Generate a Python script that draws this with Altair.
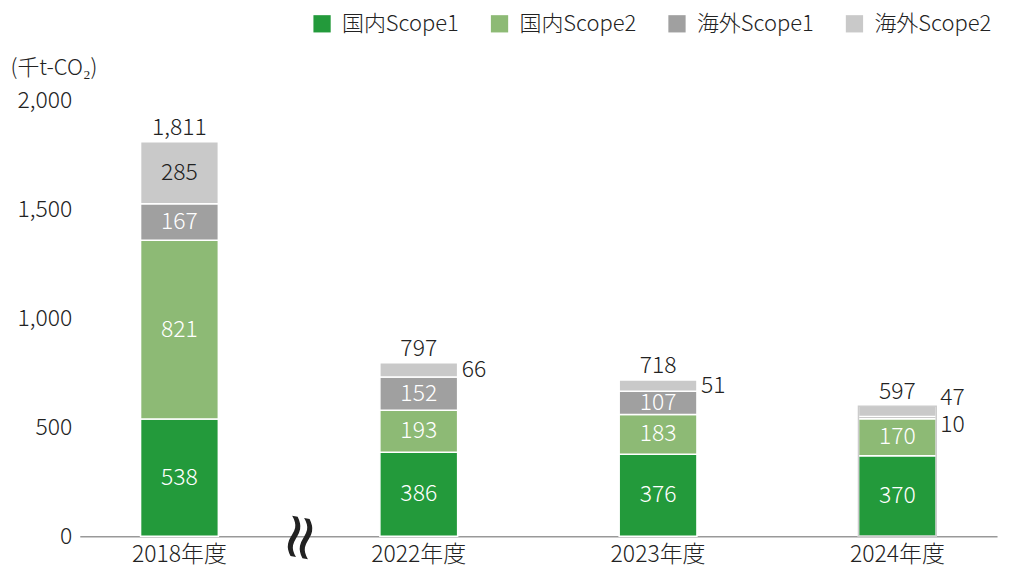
import altair as alt
import pandas as pd

years = ["2018年度", "2022年度", "2023年度", "2024年度"]
categories = ["国内Scope1", "国内Scope2", "海外Scope1", "海外Scope2"]
domestic_s1 = [538, 386, 376, 370]
domestic_s2 = [821, 193, 183, 170]
overseas_s1 = [167, 152, 107, 10]
overseas_s2 = [285, 66, 51, 47]
totals = [1811, 797, 718, 597]
colors = ["#239a3b", "#8dba75", "#a0a0a0", "#c9c9c9"]
y_ticks = [0, 500, 1000, 1500, 2000]

FONT = "Noto Sans CJK JP"
FS = 23
series = [domestic_s1, domestic_s2, overseas_s1, overseas_s2]
rows = []
for i, yr in enumerate(years):
    for j, cat in enumerate(categories):
        rows.append({"year": yr, "cat": cat, "order": j, "value": series[j][i]})
df = pd.DataFrame(rows)
tot = pd.DataFrame({"year": years, "total": totals})

xscale = alt.Scale(domain=years, paddingInner=0.675, paddingOuter=0.254)
yscale = alt.Scale(domain=[0, 2000], nice=False)

base = alt.Chart(df).transform_stack(
    stack="value", groupby=["year"], as_=["v0", "v1"], sort=[alt.SortField("order")]
).transform_calculate(mid="(datum.v0 + datum.v1) / 2")

bars = base.mark_bar(stroke="white", strokeWidth=1.5).encode(
    x=alt.X("year:N", scale=xscale, sort=years,
            axis=alt.Axis(title=None, labelAngle=0, ticks=False, domainColor="#999999",
                          domainWidth=1.5, labelFontSize=FS, labelFont=FONT, labelColor="#222222",
                          labelPadding=7, labelFontWeight=300)),
    y=alt.Y("v0:Q", scale=yscale,
            axis=alt.Axis(values=y_ticks, format=",d", grid=False, ticks=False, domain=False,
                          labelFontSize=FS, labelFont=FONT, labelColor="#222222", labelPadding=8,
                          labelFontWeight=300,
                          title="(千t-CO₂)", titleAngle=0, titleAlign="left", titleBaseline="middle",
                          titleX=-70, titleY=-33, titleFontSize=FS - 1, titleFont=FONT,
                          titleFontWeight=300, titleColor="#222222")),
    y2="v1:Q",
    color=alt.Color("cat:N", scale=alt.Scale(domain=categories, range=colors),
                    legend=alt.Legend(title=None, orient="none", legendX=232, legendY=-88,
                                      direction="horizontal", columns=4, symbolType="square",
                                      symbolSize=300, symbolStrokeWidth=0, labelFontSize=22,
                                      labelFont=FONT, labelColor="#222222", labelOffset=9,
                                      labelFontWeight=300,
                                      columnPadding=29, padding=0, labelLimit=300)),
)

inside = base.transform_filter("datum.value >= 100").mark_text(
    fontSize=FS, font=FONT, baseline="middle", fontWeight=300
).encode(
    x=alt.X("year:N", scale=xscale, sort=years),
    y=alt.Y("mid:Q", scale=yscale),
    text=alt.Text("value:Q", format=","),
    color=alt.condition("datum.cat == '海外Scope2'", alt.value("#222222"), alt.value("white")),
)

outside_a = base.transform_filter("datum.value < 100 && datum.year != '2024年度'").mark_text(
    fontSize=FS, font=FONT, baseline="middle", align="left", dx=43, color="#222222", fontWeight=300
).encode(
    x=alt.X("year:N", scale=xscale, sort=years),
    y=alt.Y("mid:Q", scale=yscale),
    text=alt.Text("value:Q", format=","),
)

outside_hi = base.transform_filter("datum.year == '2024年度' && datum.cat == '海外Scope2'").mark_text(
    fontSize=FS, font=FONT, baseline="middle", align="left", dx=43, dy=-13, color="#222222",
    fontWeight=300
).encode(
    x=alt.X("year:N", scale=xscale, sort=years),
    y=alt.Y("mid:Q", scale=yscale),
    text=alt.Text("value:Q", format=","),
)

outside_lo = base.transform_filter("datum.year == '2024年度' && datum.cat == '海外Scope1'").mark_text(
    fontSize=FS, font=FONT, baseline="middle", align="left", dx=43, dy=8, color="#222222",
    fontWeight=300
).encode(
    x=alt.X("year:N", scale=xscale, sort=years),
    y=alt.Y("mid:Q", scale=yscale),
    text=alt.Text("value:Q", format=","),
)

total_text = alt.Chart(tot).mark_text(
    fontSize=FS, font=FONT, baseline="bottom", dy=-2, color="#222222", fontWeight=300
).encode(
    x=alt.X("year:N", scale=xscale, sort=years),
    y=alt.Y("total:Q", scale=yscale),
    text=alt.Text("total:Q", format=","),
)

outline = alt.Chart(tot).transform_filter("datum.year == '2024年度'").mark_bar(
    fillOpacity=0, stroke="#cccccc", strokeWidth=1.5
).encode(
    x=alt.X("year:N", scale=xscale, sort=years),
    y=alt.Y("total:Q", scale=yscale),
)

brk = alt.Chart(pd.DataFrame({"t": ["≈"]})).mark_text(
    fontSize=64, font="DejaVu Sans", baseline="middle", align="center", color="#222222", angle=100
).encode(x=alt.value(220), y=alt.value(438), text="t:N")

chart = alt.layer(bars, outline, inside, outside_a, outside_hi, outside_lo, total_text,
                  brk).properties(
    width=920, height=437, autosize=alt.AutoSizeParams(type="none"),
    padding={"left": 72, "top": 92, "right": 10, "bottom": 40}
).configure(font=FONT).configure_view(stroke=None, strokeWidth=0)

chart.save("out.html", embed_options={"renderer": "svg", "actions": False})
